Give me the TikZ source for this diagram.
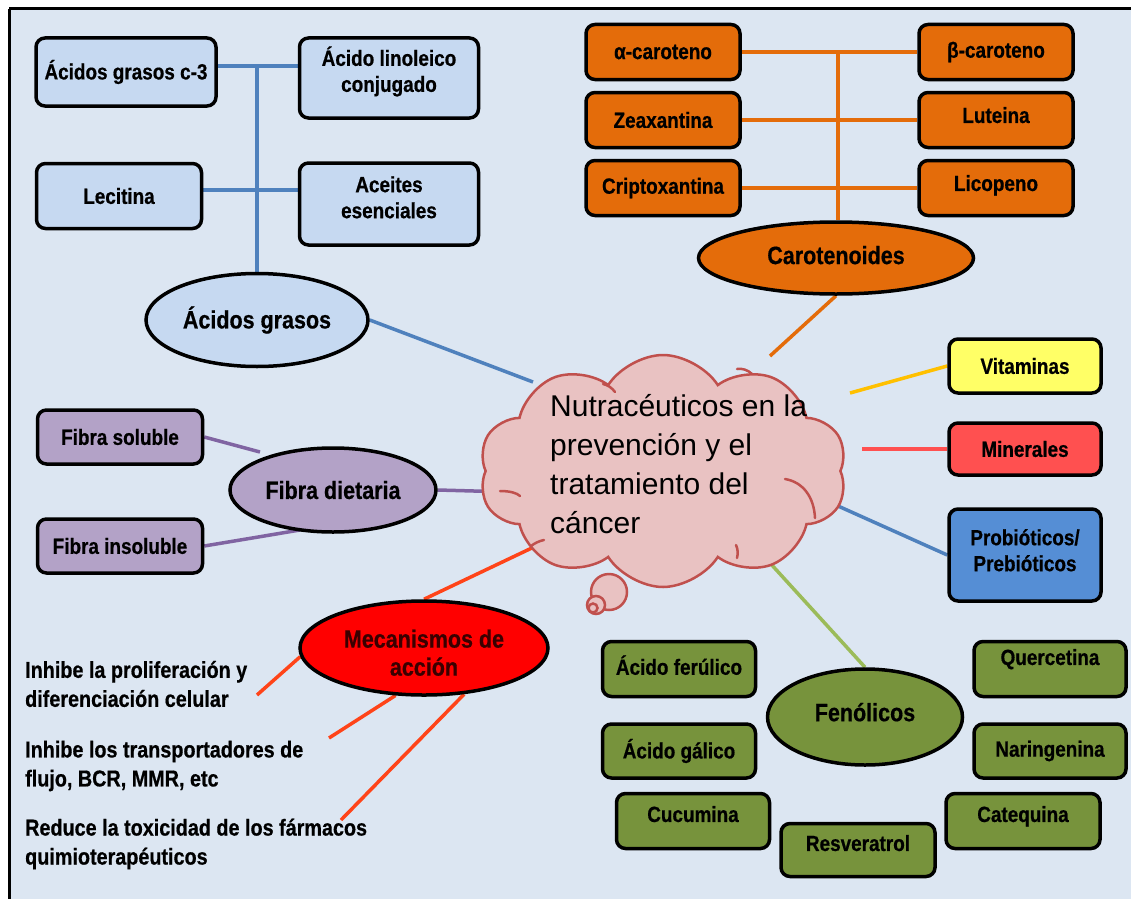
\documentclass[tikz,border=0pt]{standalone}
\usepackage{fontspec}
\setmainfont{Liberation Sans}
\newfontfamily\nb[FakeStretch=0.86,FakeBold=0.6]{Liberation Sans}
\newfontfamily\cl{Liberation Sans}
\usetikzlibrary{shapes.geometric,shapes.symbols}
\pgfdeclarelayer{bg}
\pgfsetlayers{bg,main}
\definecolor{bgblue}{HTML}{DCE6F2}
\definecolor{lblue}{HTML}{C6D9F1}
\definecolor{orng}{HTML}{E46C0A}
\definecolor{purp}{HTML}{B3A2C7}
\definecolor{purpline}{HTML}{8064A2}
\definecolor{blueline}{HTML}{4F81BD}
\definecolor{vitam}{HTML}{FFFF66}
\definecolor{yelline}{HTML}{FFC000}
\definecolor{miner}{HTML}{FF5050}
\definecolor{probio}{HTML}{558ED5}
\definecolor{grn}{HTML}{77933C}
\definecolor{grnline}{HTML}{9BBB59}
\definecolor{cloudfill}{HTML}{E9C2C2}
\definecolor{cloudline}{HTML}{C0504D}
\definecolor{mecline}{HTML}{FF4419}
\definecolor{mectext}{HTML}{3A0000}
\newcommand{\liftlines}[2]{\raisebox{#1}[\height][\depth]{\begin{tabular}{@{}c@{}}#2\end{tabular}}}
\tikzset{
  box/.style={draw=black, line width=3.5pt, rounded corners=9pt, align=center, inner sep=0pt,
    font=\nb\bfseries\fontsize{22}{26}\selectfont},
  sz/.style 2 args={minimum width=#1, minimum height=#2},
  ell/.style={ellipse, draw=black, line width=3.5pt, inner sep=0pt, align=center,
    font=\nb\bfseries\fontsize{25}{28}\selectfont},
  conn/.style={line width=3.5pt},
  mtext/.style={anchor=west, align=left, inner sep=0pt, font=\nb\bfseries\fontsize{23}{29}\selectfont},
  bubble/.style={circle, draw=cloudline, fill=cloudfill, line width=2.5pt, inner sep=0pt},
  inarc/.style={draw=cloudline, line width=2.5pt, line cap=round}
}
\begin{document}
\begin{tikzpicture}[x=1pt,y=-1pt]
\useasboundingbox (0,0) rectangle (1131,899);

% ---- Acidos grasos cluster
\node[box, fill=lblue, sz={180}{68}] (acg) at (126,72) {Ácidos grasos c-3};
\node[box, fill=lblue, sz={179}{80}] (acl) at (389,78) {\liftlines{5pt}{Ácido linoleico\\conjugado}};
\node[box, fill=lblue, sz={165}{65}] (lec) at (119,196) {Lecitina};
\node[box, fill=lblue, sz={179}{82}] (ace) at (389,204) {\liftlines{4pt}{Aceites\\esenciales}};
\node[ell, fill=lblue, sz={222}{93}] (agr) at (257,320) {Ácidos grasos};
\coordinate (tTop) at (257,66);
\coordinate (tMid) at (257,190);

% ---- Carotenoides cluster
\node[box, fill=orng, sz={154}{55}] (ac) at (663,52) {α-caroteno};
\node[box, fill=orng, sz={154}{55}] (bc) at (996,52) {β-caroteno};
\node[box, fill=orng, sz={154}{55}] (zea) at (663,120) {Zeaxantina};
\node[box, fill=orng, sz={154}{55}] (lut) at (996,120) {\raisebox{10pt}{Luteina}};
\node[box, fill=orng, sz={154}{55}] (cri) at (663,188) {Criptoxantina};
\node[box, fill=orng, sz={154}{55}] (lic) at (996,188) {\raisebox{10pt}{Licopeno}};
\node[ell, fill=orng, sz={275}{72}] (car) at (836,258) {\raisebox{6pt}{Carotenoides}};
\coordinate (cT) at (838,52);

% ---- Right boxes
\node[box, fill=vitam, sz={152}{54}] (vit) at (1025,366) {Vitaminas};
\node[box, fill=miner, sz={152}{52}] (min) at (1025,449) {Minerales};
\node[box, fill=probio, sz={152}{92}] (pro) at (1025,555) {\liftlines{2pt}{Probióticos/\\Prebióticos}};

% ---- Fibra
\node[box, fill=purp, sz={165}{54}] (fs) at (120,437) {Fibra soluble};
\node[box, fill=purp, sz={165}{54}] (fi) at (120,546) {Fibra insoluble};
\node[ell, fill=purp, sz={206}{84}] (fd) at (333,490) {Fibra dietaria};

% ---- Mecanismos
\node[ell, fill=red, text=mectext, sz={248}{94}] (mec) at (424,648) {\liftlines{-8pt}{Mecanismos de\\acción}};
\node[mtext] (m1) at (25,684) {Inhibe la proliferación y\\diferenciación celular};
\node[mtext] (m2) at (25,766) {Inhibe los transportadores de\\flujo, BCR, MMR, etc};
\node[mtext] (m3) at (25,844) {Reduce la toxicidad de los fármacos\\quimioterapéuticos};
\coordinate (m1e) at (257,695);
\coordinate (m2e) at (329,738);
\coordinate (m3e) at (341,820);

% ---- Fenolicos
\node[box, fill=grn, sz={153}{55}] (af) at (679,669) {\raisebox{8pt}{Ácido ferúlico}};
\node[box, fill=grn, sz={152}{55}] (qu) at (1050,669) {\raisebox{24pt}{Quercetina}};
\node[box, fill=grn, sz={153}{54}] (ag) at (679,751) {Ácido gálico};
\node[box, fill=grn, sz={152}{54}] (na) at (1050,751) {Naringenina};
\node[box, fill=grn, sz={153}{55}] (cu) at (693,821) {\raisebox{14pt}{Cucumina}};
\node[box, fill=grn, sz={154}{55}] (ca) at (1023,821) {\raisebox{14pt}{Catequina}};
\node[box, fill=grn, sz={154}{53}] (re) at (858,850) {\raisebox{14pt}{Resveratrol}};
\node[ell, fill=grn, sz={195}{96}] (fe) at (865,717) {\raisebox{10pt}{Fenólicos}};

% ---- Central cloud
\node[cloud, cloud puffs=10, cloud puff arc=115, aspect=1.6, draw=cloudline, fill=cloudfill,
      line width=2.5pt, minimum width=368, minimum height=232] (cloud) at (663,471) {};
\draw[inarc] (500,491) .. controls (510,491) and (517,493) .. (520,496);
\draw[inarc] (785,479) .. controls (803,482) and (814,497) .. (815,518);
\draw[inarc] (603,384) .. controls (608,385) and (612,388) .. (615,392);
\draw[inarc] (737,369) .. controls (742,368) and (748,370) .. (752,374);
\draw[inarc] (736,545) .. controls (738,549) and (738,554) .. (737,558);
\draw[inarc] (531,546) .. controls (535,543) and (539,541) .. (544,540);
\node[bubble, minimum size=36] (b1) at (609,592) {};
\node[bubble, minimum size=18] (b2) at (596,605) {};
\node[bubble, minimum size=9] (b3) at (593,608) {};
\node[anchor=north west, align=left, inner sep=0pt, font=\cl\fontsize{30}{39}\selectfont] (ctext) at (550,394)
  {Nutracéuticos en la\\prevención y el\\tratamiento del\\cáncer};

\coordinate (cA) at (533,382);
\coordinate (cF) at (510,492);
\coordinate (cM) at (536,546);
\coordinate (cC) at (770,356);
\coordinate (cV) at (850,393);
\coordinate (cMi) at (862,449);
\coordinate (cP) at (838,506);
\coordinate (cG) at (770,563);
\coordinate (fsE) at (260,452);
\coordinate (fiE) at (300,530);

\begin{pgfonlayer}{bg}
  \fill[white] (0,0) rectangle (1131,899);
  \fill[bgblue] (9,9) rectangle (1131,899);
  \draw[conn, blueline] (agr.north) -- (tTop);
  \draw[conn, blueline] (acg.east |- tTop) -- (acl.west |- tTop);
  \draw[conn, blueline] (lec.east |- tMid) -- (ace.west |- tMid);
  \draw[conn, blueline] (agr.east) -- (cA);
  \draw[conn, orng] (cT) -- (cT |- car.north);
  \draw[conn, orng] (ac.east) -- (bc.west);
  \draw[conn, orng] (zea.east) -- (lut.west);
  \draw[conn, orng] (cri.east) -- (lic.west);
  \draw[conn, orng] (car.south) -- (cC);
  \draw[conn, yelline] (cV) -- (vit.west);
  \draw[conn, miner] (cMi) -- (min.west);
  \draw[conn, blueline] (cP) -- (pro.west);
  \draw[conn, grnline] (cG) -- (fe.north);
  \draw[conn, purpline] (fs.east) -- (fsE);
  \draw[conn, purpline] (fi.east) -- (fiE);
  \draw[conn, purpline] (fd.east) -- (cF);
  \draw[conn, mecline] (mec.north) -- (cM);
  \draw[conn, mecline] (mec.184) -- (m1e);
  \draw[conn, mecline] (mec.239) -- (m2e);
  \draw[conn, mecline] (mec.311) -- (m3e);
\end{pgfonlayer}
\draw[line width=3pt] (9,9) -- (1131,9);
\draw[line width=3pt] (9,9) -- (9,899);
\end{tikzpicture}
\end{document}
